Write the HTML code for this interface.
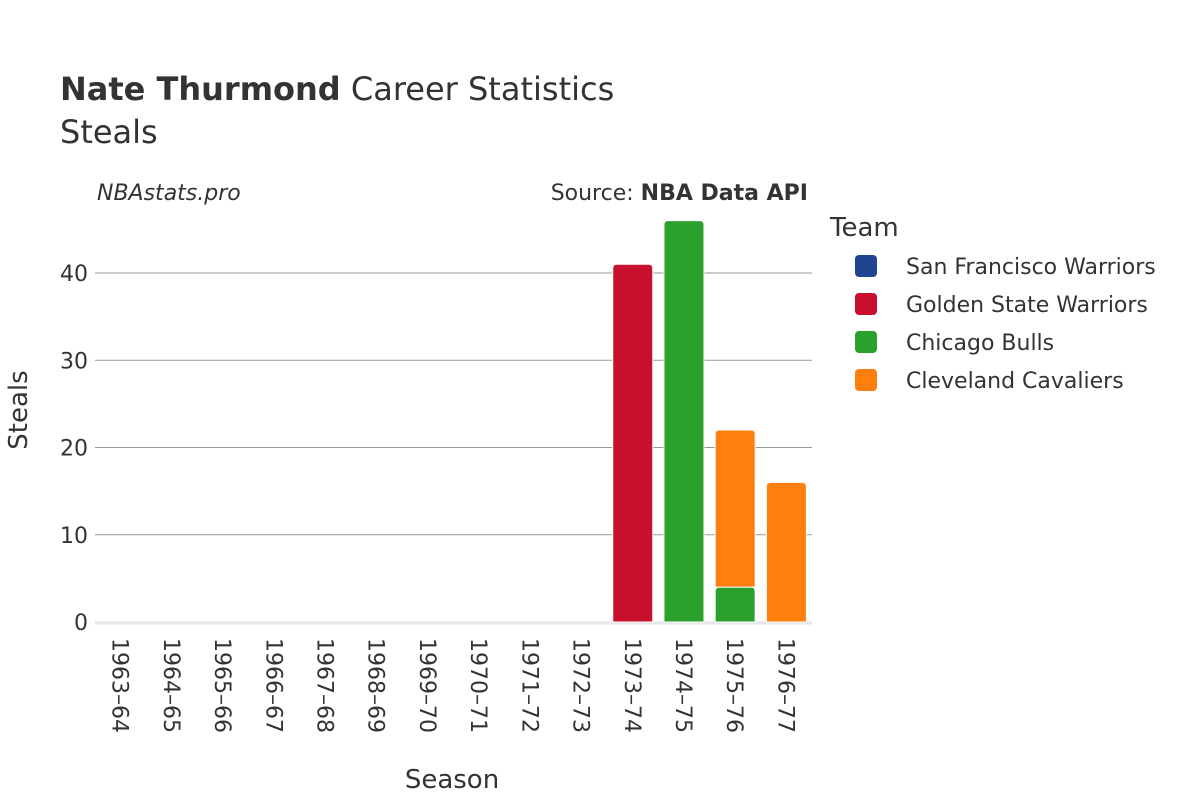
<!DOCTYPE html>
<html><head><meta charset="utf-8"><style>
body{margin:0;background:#fff;font-family:"Liberation Sans","DejaVu Sans",sans-serif;}
svg text{font-family:"DejaVu Sans","Liberation Sans",sans-serif;fill:#333;}
</style></head><body>
<svg id="c" width="1200" height="800" xmlns="http://www.w3.org/2000/svg">
<text x="60" y="100" font-size="32"><tspan font-weight="bold">Nate Thurmond</tspan> Career Statistics</text>
<text x="60" y="143" font-size="32">Steals</text>
<text x="97" y="200" font-size="22" font-style="italic">NBAstats.pro</text>
<text x="808" y="200" font-size="22" text-anchor="end">Source: <tspan font-weight="bold">NBA Data API</tspan></text>
<text x="452" y="788" font-size="26" text-anchor="middle">Season</text>
<text transform="translate(27,410) rotate(-90)" font-size="26" text-anchor="middle">Steals</text>
<g id="grid"></g><g id="bars"></g><g id="xt"></g>
<text x="830" y="236" font-size="26">Team</text>
<g id="legend"></g>
</svg>
<script>
const seasons=["1963–64","1964–65","1965–66","1966–67","1967–68","1968–69","1969–70","1970–71","1971–72","1972–73","1973–74","1974–75","1975–76","1976–77"];
const teams=["San Francisco Warriors","Golden State Warriors","Chicago Bulls","Cleveland Cavaliers"];
const colors=["#1f4591","#c8102e","#2ca02c","#ff7f0e"];
const sfw=[0,0,0,0,0,0,0,0,0,0,0,0,0,0];
const gsw=[0,0,0,0,0,0,0,0,0,0,41,0,0,0];
const chi=[0,0,0,0,0,0,0,0,0,0,0,46,4,0];
const cle=[0,0,0,0,0,0,0,0,0,0,0,0,18,16];
const series=[sfw,gsw,chi,cle];
const yTicks=[0,10,20,30,40];
const X0=95,X1=812,Y0=622,PX=8.725;
const bw=(X1-X0)/seasons.length;
const x=i=>X0+bw*(i+0.5);
const y=v=>Y0-v*PX;
const NS="http://www.w3.org/2000/svg";
function mk(t,a,p){const e=document.createElementNS(NS,t);for(const k in a)e.setAttribute(k,a[k]);p.appendChild(e);return e;}
const grid=document.getElementById('grid');
yTicks.forEach(v=>{
 if(v>0){const l=mk('line',{x1:X0,x2:X1,y1:y(v),y2:y(v),stroke:'#999','stroke-width':1},grid);
 
 }
 const t=mk('text',{x:88,y:y(v)+8,'font-size':22,'text-anchor':'end'},grid);t.textContent=v;
 
 
});
const zl=mk('line',{x1:X0,x2:X1,y1:Y0+1,y2:Y0+1,stroke:'#e6e6e6','stroke-width':3},grid);


const bars=document.getElementById('bars');
const W=40,r=4;
seasons.forEach((s,i)=>{
 let base=0;
 series.forEach((arr,k)=>{
  const v=arr[i];if(!v)return;
  const yt=y(base+v),yb=y(base),xl=x(i)-W/2;
  const d=`M${xl},${yb}V${yt+r}Q${xl},${yt} ${xl+r},${yt}H${xl+W-r}Q${xl+W},${yt} ${xl+W},${yt+r}V${yb}Z`;
  const p=mk('path',{d:d,fill:colors[k],stroke:'#fff','stroke-width':1},bars);
  
  
  base+=v;
 });
 const t=mk('text',{transform:`translate(${x(i)-8},638) rotate(90)`,'font-size':22},document.getElementById('xt'));
 t.textContent=s;
 
 
});
const lg=document.getElementById('legend');
teams.forEach((tm,k)=>{
 const yy=266+k*38;
 const g=mk('g',{},lg);
 
 
 mk('rect',{x:855,y:yy-11,width:22,height:22,rx:4,fill:colors[k]},g);
 const t=mk('text',{x:906,y:yy+8,'font-size':22},g);t.textContent=tm;
});
</script>
</body></html>
